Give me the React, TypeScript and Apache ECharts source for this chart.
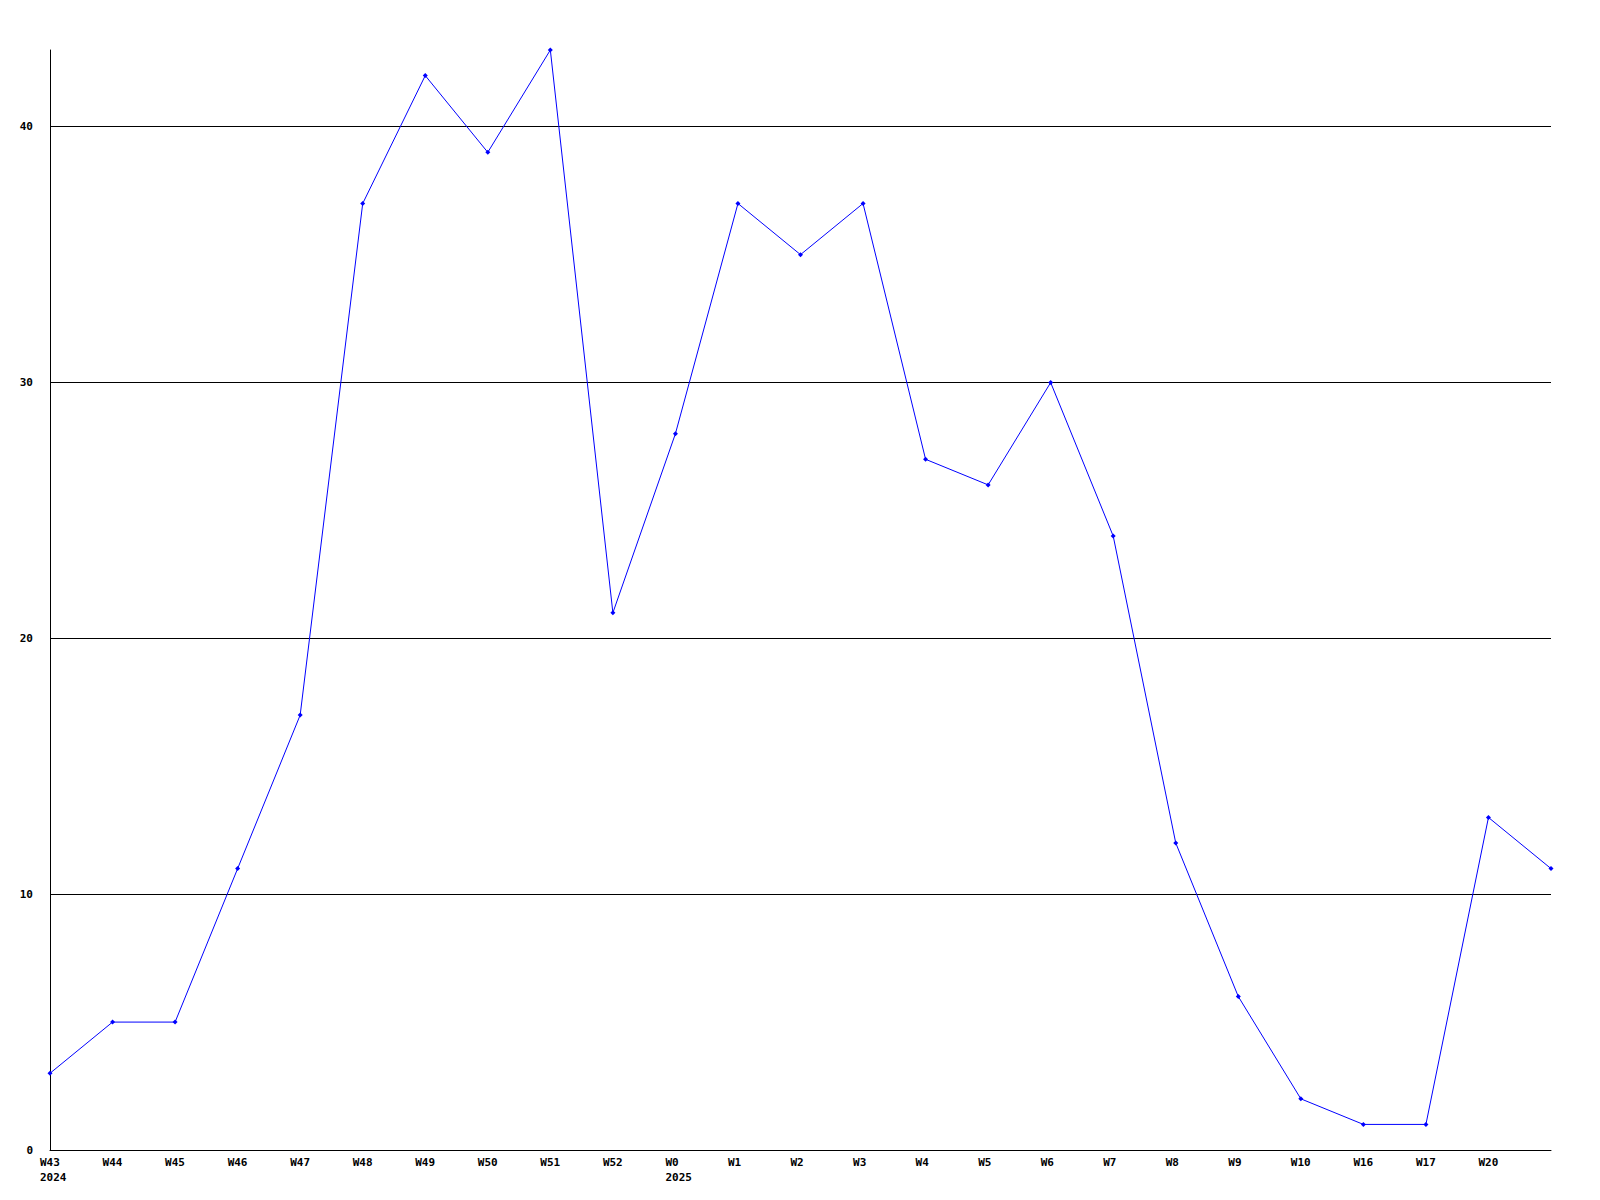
import React, { useEffect, useRef } from "react";
import * as echarts from "echarts";

const weeks = ["W43", "W44", "W45", "W46", "W47", "W48", "W49", "W50", "W51", "W52", "W0", "W1", "W2", "W3", "W4", "W5", "W6", "W7", "W8", "W9", "W10", "W16", "W17", "W20", ""];
const values = [3, 5, 5, 11, 17, 37, 42, 39, 43, 21, 28, 37, 35, 37, 27, 26, 30, 24, 12, 6, 2, 1, 1, 13, 11];
const yearLabels: Record<number, string> = { 0: "2024", 10: "2025" };
const gridValues = [10, 20, 30, 40];

const FONT = "DejaVu Sans Mono";

export default function App() {
  const ref = useRef<HTMLDivElement>(null);
  useEffect(() => {
    if (!ref.current) return;
    const chart = echarts.init(ref.current, null, { renderer: "svg" });
    chart.setOption({
      animation: false,
      backgroundColor: "#ffffff",
      grid: { left: 50, top: 50, right: 49, bottom: 50, containLabel: false },
      xAxis: {
        type: "category",
        data: weeks,
        boundaryGap: false,
        axisLine: { lineStyle: { color: "#000000", width: 1 } },
        axisTick: { show: false },
        splitLine: { show: false },
        axisLabel: {
          interval: 0,
          align: "left",
          margin: 5,
          padding: [0, 0, 0, -10],
          fontFamily: FONT,
          fontWeight: "bold",
          fontSize: 11,
          lineHeight: 15,
          color: "#000000",
          formatter: (v: string, i: number) => (yearLabels[i] ? v + "\n" + yearLabels[i] : v),
        },
      },
      yAxis: {
        type: "value",
        min: 0,
        max: 43,
        interval: 10,
        axisLine: { show: true, lineStyle: { color: "#000000", width: 1 } },
        axisTick: { show: false },
        splitLine: { show: false },
        axisLabel: {
          margin: 17,
          fontFamily: FONT,
          fontWeight: "bold",
          fontSize: 11,
          color: "#000000",
          formatter: (v: number) => (v % 10 === 0 ? String(v) : ""),
        },
      },
      series: [
        {
          type: "line",
          data: values,
          symbol: "diamond",
          symbolSize: 5,
          showAllSymbol: true,
          lineStyle: { color: "#0000ff", width: 1 },
          itemStyle: { color: "#0000ff" },
          markLine: {
            silent: true,
            symbol: "none",
            label: { show: false },
            lineStyle: { color: "#000000", width: 1, type: "solid" },
            data: gridValues.map((v) => ({ yAxis: v })),
            z: 1,
          },
          z: 3,
        },
      ],
    });
    return () => chart.dispose();
  }, []);
  return (
    <div
      ref={ref}
      style={{ position: "fixed", left: 0, top: 0, width: 1600, height: 1200, background: "#fff" }}
    />
  );
}
